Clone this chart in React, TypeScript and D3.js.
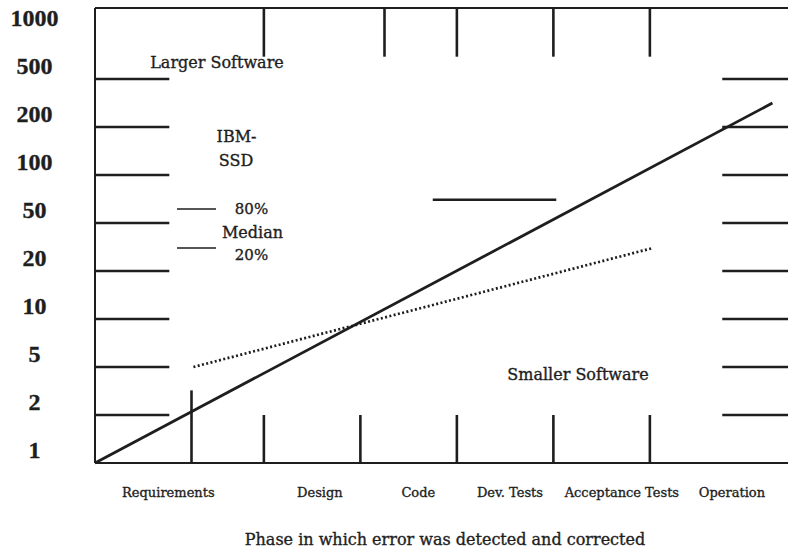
import React from "react";
import * as d3 from "d3";

// ---- data ----
const costTickValues = [1, 2, 5, 10, 20, 50, 100, 200, 500, 1000];
const costTickLabels = ["1", "2", "5", "10", "20", "50", "100", "200", "500", "1000"];
const sideTickValues = [2, 5, 10, 20, 50, 100, 200, 500];

const phaseLabels = ["Requirements", "Design", "Code", "Dev. Tests", "Acceptance Tests", "Operation"];
const phaseLabelAt = [0.76, 2.33, 3.35, 4.3, 5.46, 6.6];

const bottomPhaseTicks = [1, 1.75, 2.75, 3.75, 4.75, 5.75];
const bottomTickReach = [3.2, 2, 2, 2, 2, 2];
const topPhaseTicks = [1.75, 3.0, 3.75, 4.75, 5.75];
const topTickReach = 690;

const middleSegment = [
  { phase: 3.5, cost: 70 },
  { phase: 4.78, cost: 70 },
];

const largerSoftware = [
  { phase: 0, cost: 1 },
  { phase: 7.02, cost: 316 },
];
const smallerSoftware = [
  { phase: 1.02, cost: 5 },
  { phase: 5.78, cost: 31 },
];

const W = 788;
const H = 551;
const FRAME_LEFT = 95;
const FRAME_TOP = 8;
const FRAME_RIGHT = 788;
const INK = "#1e1e1e";
const FONT = "'DejaVu Serif', 'Liberation Serif', serif";

export default function App() {
  const x = d3.scaleLinear().domain([0, 7]).range([FRAME_LEFT, 770.5]);
  const y = d3
    .scaleLog()
    .domain(costTickValues)
    .range(costTickValues.map((_, i) => 463 - 48 * i));
  const bottom = y(1);

  const line = d3
    .line<{ phase: number; cost: number }>()
    .x((d) => x(d.phase))
    .y((d) => y(d.cost));

  const textStyle = { fill: INK, stroke: INK, strokeWidth: 0.35 };

  return (
    <svg
      width={W}
      height={H}
      style={{ position: "absolute", left: 0, top: 0, background: "#fff" }}
      fontFamily={FONT}
    >
      <rect x={0} y={0} width={W} height={H} fill="#fff" />
      {/* frame */}
      <line x1={FRAME_LEFT} x2={FRAME_LEFT} y1={FRAME_TOP} y2={bottom} stroke={INK} strokeWidth={2} />
      <line x1={FRAME_LEFT} x2={FRAME_RIGHT} y1={FRAME_TOP} y2={FRAME_TOP} stroke={INK} strokeWidth={2} />
      <line x1={FRAME_LEFT} x2={FRAME_RIGHT} y1={bottom} y2={bottom} stroke={INK} strokeWidth={2} />

      {/* side ticks */}
      {sideTickValues.map((v) => (
        <g key={"s" + v}>
          <line x1={x(0)} x2={x(0.77)} y1={y(v)} y2={y(v)} stroke={INK} strokeWidth={2.6} />
          <line x1={x(6.5)} x2={FRAME_RIGHT} y1={y(v)} y2={y(v)} stroke={INK} strokeWidth={2.6} />
        </g>
      ))}

      {/* bottom phase ticks */}
      {bottomPhaseTicks.map((p, i) => (
        <line key={"b" + i} x1={x(p)} x2={x(p)} y1={bottom} y2={y(bottomTickReach[i])} stroke={INK} strokeWidth={2.6} />
      ))}
      {/* top phase ticks */}
      {topPhaseTicks.map((p, i) => (
        <line key={"t" + i} x1={x(p)} x2={x(p)} y1={FRAME_TOP} y2={y(topTickReach)} stroke={INK} strokeWidth={2.6} />
      ))}

      {/* middle segment */}
      <path d={line(middleSegment) || ""} stroke={INK} strokeWidth={2.6} fill="none" />

      {/* lines */}
      <path d={line(largerSoftware) || ""} stroke={INK} strokeWidth={2.8} fill="none" />
      <path
        d={line(smallerSoftware) || ""}
        stroke={INK}
        strokeWidth={2.7}
        strokeDasharray="2 2.4"
        fill="none"
      />

      {/* y labels */}
      {costTickValues.map((v, i) => (
        <text
          key={"y" + v}
          x={34.5}
          y={y(v) - 5}
          textAnchor="middle"
          fontFamily="'Liberation Serif', serif"
          fontWeight="bold"
          fontSize={24}
          {...textStyle}
        >
          {costTickLabels[i]}
        </text>
      ))}

      {/* x labels */}
      {phaseLabels.map((t, i) => (
        <text key={"x" + i} x={x(phaseLabelAt[i])} y={497} textAnchor="middle" fontSize={13} {...textStyle}>
          {t}
        </text>
      ))}

      {/* annotations */}
      <text x={217} y={68} textAnchor="middle" fontSize={16} {...textStyle}>
        Larger Software
      </text>
      <text x={236.5} y={142} textAnchor="middle" fontSize={16} {...textStyle}>
        IBM-
      </text>
      <text x={236} y={166} textAnchor="middle" fontSize={16} {...textStyle}>
        SSD
      </text>
      <line x1={177} x2={216} y1={209} y2={209} stroke={INK} strokeWidth={1.5} />
      <line x1={177} x2={216} y1={248} y2={248} stroke={INK} strokeWidth={1.5} />
      <text x={251.5} y={214} textAnchor="middle" fontSize={15} {...textStyle}>
        80%
      </text>
      <text x={252.5} y={238} textAnchor="middle" fontSize={16} {...textStyle}>
        Median
      </text>
      <text x={251.5} y={260} textAnchor="middle" fontSize={15} {...textStyle}>
        20%
      </text>
      <text x={578} y={380} textAnchor="middle" fontSize={16} {...textStyle}>
        Smaller Software
      </text>

      {/* title */}
      <text x={445} y={545} textAnchor="middle" fontSize={16} {...textStyle}>
        Phase in which error was detected and corrected
      </text>
    </svg>
  );
}
